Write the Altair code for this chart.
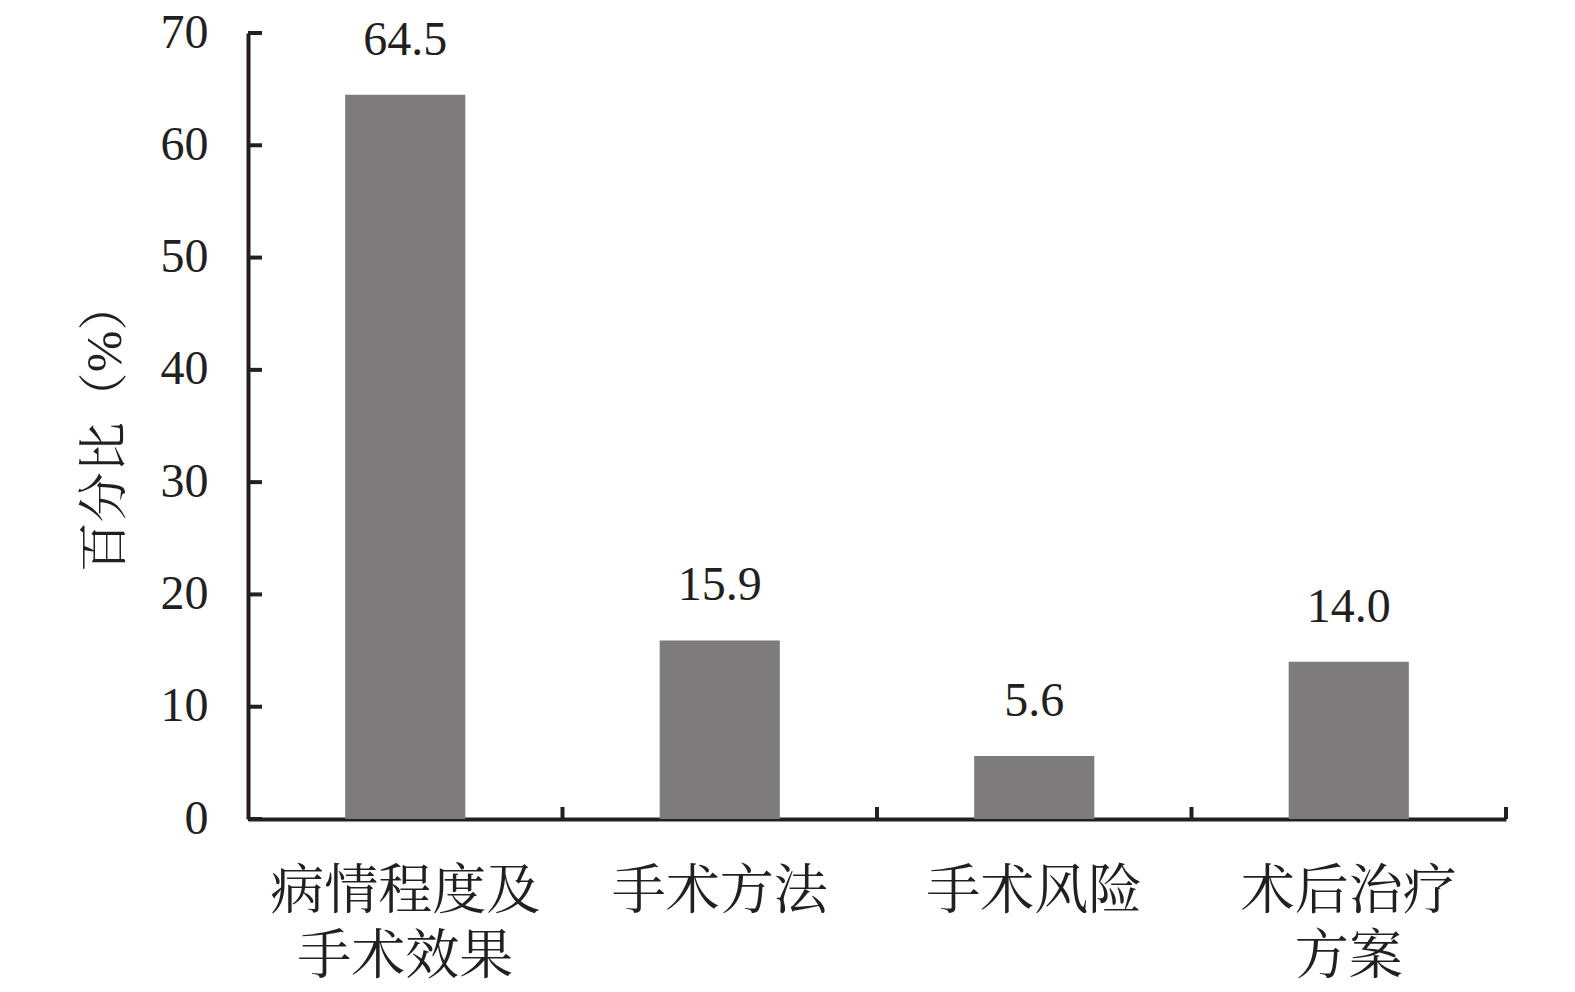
import altair as alt
import pandas as pd

categories = ["病情程度及\n手术效果", "手术方法", "手术风险", "术后治疗\n方案"]
values = [64.5, 15.9, 5.6, 14.0]
label_text = ["64.5", "15.9", "5.6", "14.0"]
y_ticks = [0, 10, 20, 30, 40, 50, 60, 70]
x_boundaries = [1, 2, 3, 4]

FONT = "Liberation Serif, Noto Serif CJK SC, Noto Sans CJK SC"
INK = "#231f20"
BAR = "#7d7b7c"

W, H = 1258, 786

df = pd.DataFrame({"cat": categories, "val": values, "txt": label_text})
df_yt = pd.DataFrame({"t": y_ticks})
df_xt = pd.DataFrame({"b": x_boundaries})

xscale = alt.Scale(paddingInner=0.618, paddingOuter=0.309)
yscale = alt.Scale(domain=[0, 70], nice=False)

x_enc = alt.X("cat:N", sort=None, scale=xscale,
              axis=alt.Axis(title=None, ticks=False, labelAngle=0, labelLimit=0,
                            labelExpr="split(datum.value, '\\n')",
                            labelFont=FONT, labelFontSize=54, labelColor=INK,
                            labelLineHeight=65, labelPadding=46,
                            domainColor=INK, domainWidth=4, labelBaseline="top"))
y_enc = alt.Y("val:Q", scale=yscale,
              axis=alt.Axis(title="百分比（%）", values=y_ticks, ticks=False,
                            grid=False, labelFont=FONT, labelFontSize=48,
                            labelColor=INK, labelPadding=40,
                            domainColor=INK, domainWidth=4,
                            titleFont=FONT, titleFontSize=50, titleFontWeight="normal",
                            titleColor=INK, titlePadding=30))

bars = alt.Chart(df).mark_bar(color=BAR).encode(x=x_enc, y=y_enc)
texts = alt.Chart(df).mark_text(font=FONT, fontSize=48, color=INK, dy=-30,
                                baseline="bottom").encode(
    x=alt.X("cat:N", sort=None, scale=xscale),
    y=alt.Y("val:Q", scale=yscale),
    text="txt:N")

ytick = alt.Chart(df_yt).mark_rule(color=INK, strokeWidth=4).encode(
    y=alt.Y("t:Q", scale=yscale),
    x=alt.value(0), x2=alt.value(14))

xtick = alt.Chart(df_xt).mark_rule(color=INK, strokeWidth=4).encode(
    x=alt.X("b:Q", scale=alt.Scale(domain=[0, 4], nice=False), axis=None),
    y=alt.value(H), y2=alt.value(H - 12))

main = alt.layer(bars, texts, ytick)

chart = alt.layer(main, xtick).resolve_scale(x="independent").properties(
    width=W, height=H,
    autosize=alt.AutoSizeParams(type="none"),
    padding={"left": 240, "top": 25, "right": 40, "bottom": 160},
).configure(background="white").configure_view(strokeWidth=0)

chart.save("out.html", embed_options={"renderer": "svg", "actions": False})
